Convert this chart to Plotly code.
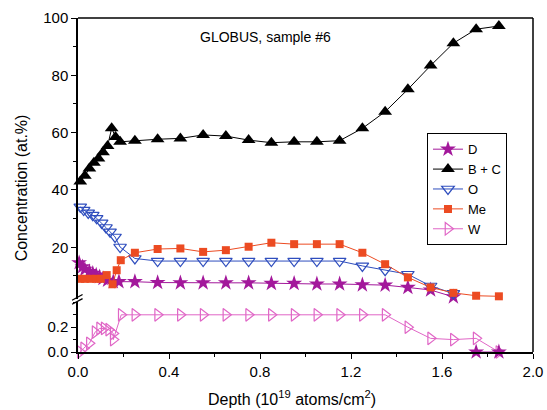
import plotly.graph_objects as go

# ---------------- data ----------------
depth_grid = [0.25, 0.35, 0.45, 0.55, 0.65, 0.75, 0.85, 0.95, 1.05, 1.15,
              1.25, 1.35, 1.45, 1.55, 1.65, 1.75, 1.85]

# B + C
bc_depth = [0.01, 0.03, 0.05, 0.07, 0.09, 0.11, 0.13, 0.148, 0.165, 0.185] + depth_grid
bc_conc = [43.0, 45.0, 47.5, 49.5, 51.0, 53.2, 55.3, 61.5, 58.5, 56.8,
           57.2, 57.7, 58.0, 59.2, 58.8, 57.4, 56.5, 56.8, 56.8, 57.2,
           61.5, 67.3, 75.1, 83.4, 91.2, 96.1, 97.2]

# D (upper part of the broken axis)
d_depth_hi = [0.005, 0.02, 0.03, 0.05, 0.065, 0.08, 0.095, 0.11, 0.13, 0.155, 0.18] + depth_grid[:15]
d_conc_hi = [14.6, 13.2, 12.3, 11.5, 10.9, 10.3, 9.7, 9.1, 8.5, 8.0, 8.0,
             8.0, 7.7, 7.6, 7.6, 7.6, 7.6, 7.4, 7.4, 7.2, 7.2, 6.9, 6.8, 6.0, 5.1, 2.7]
# D (lower part of the broken axis)
d_depth_lo = [1.75, 1.85]
d_conc_lo = [0.0, 0.0]

# O
o_depth = [0.01, 0.025, 0.045, 0.065, 0.082, 0.104, 0.123, 0.141, 0.163, 0.185] + depth_grid[:15]
o_conc = [34.1, 33.0, 32.0, 31.2, 30.1, 28.5, 26.9, 25.4, 23.6, 20.1,
          16.1, 15.2, 15.2, 15.2, 15.2, 15.2, 15.2, 15.2, 15.2, 15.2,
          13.5, 12.0, 10.6, 6.5, 3.9]

# Me
me_depth = [0.01, 0.03, 0.055, 0.08, 0.10, 0.126, 0.152, 0.17, 0.188] + depth_grid
me_conc = [9.0, 9.0, 9.0, 9.0, 9.0, 10.3, 7.1, 12.0, 15.5,
           18.1, 19.4, 19.6, 18.4, 19.0, 20.2, 21.6, 21.1, 21.1, 21.1,
           18.1, 14.1, 9.5, 6.0, 4.1, 3.1, 2.9]

# W (lower part of the broken axis)
w_depth = [0.01, 0.025, 0.05, 0.075, 0.095, 0.115, 0.135, 0.155, 0.155, 0.19] + depth_grid
w_conc = [0.0, 0.03, 0.07, 0.16, 0.19, 0.19, 0.18, 0.15, 0.10, 0.30,
          0.30, 0.30, 0.30, 0.30, 0.30, 0.30, 0.30, 0.30, 0.30, 0.30,
          0.30, 0.30, 0.20, 0.11, 0.10, 0.11, 0.0]

x_ticks = [0.0, 0.4, 0.8, 1.2, 1.6, 2.0]
y_hi_ticks = [20, 40, 60, 80, 100]
y_lo_ticks = [0.0, 0.2]

# ---------------- styles ----------------
C_D = "#A3189B"
C_BC = "#000000"
C_O = "#2F4EBE"
C_ME = "#EC4B22"
C_W = "#E066C6"
FONT = "Liberation Sans, Arial, sans-serif"

fig = go.Figure()

fig.add_trace(go.Scatter(x=d_depth_hi, y=d_conc_hi, name="D", legendgroup="D",
                         mode="lines+markers", xaxis="x", yaxis="y",
                         line=dict(color=C_D, width=1),
                         marker=dict(symbol="star", size=12, color=C_D),
                         cliponaxis=False))
fig.add_trace(go.Scatter(x=bc_depth, y=bc_conc, name="B + C",
                         mode="lines+markers", xaxis="x", yaxis="y",
                         line=dict(color=C_BC, width=1),
                         marker=dict(symbol="triangle-up", size=12, color=C_BC),
                         cliponaxis=False))
fig.add_trace(go.Scatter(x=o_depth, y=o_conc, name="O",
                         mode="lines+markers", xaxis="x", yaxis="y",
                         line=dict(color=C_O, width=1),
                         marker=dict(symbol="triangle-down-open", size=11, color=C_O,
                                     line=dict(width=1.2)),
                         cliponaxis=False))
fig.add_trace(go.Scatter(x=me_depth, y=me_conc, name="Me",
                         mode="lines+markers", xaxis="x", yaxis="y",
                         line=dict(color=C_ME, width=1),
                         marker=dict(symbol="square", size=8, color=C_ME),
                         cliponaxis=False))
fig.add_trace(go.Scatter(x=w_depth, y=w_conc, name="W",
                         mode="lines+markers", xaxis="x", yaxis="y2",
                         line=dict(color=C_W, width=1),
                         marker=dict(symbol="triangle-right-open", size=11, color=C_W,
                                     line=dict(width=1.2)),
                         cliponaxis=False))
fig.add_trace(go.Scatter(x=d_depth_lo, y=d_conc_lo, name="D", legendgroup="D",
                         showlegend=False,
                         mode="lines+markers", xaxis="x", yaxis="y2",
                         line=dict(color=C_D, width=1),
                         marker=dict(symbol="star", size=12, color=C_D),
                         cliponaxis=False))

axis_common = dict(showline=True, linecolor="black", linewidth=1.5,
                   ticks="outside", ticklen=5, tickwidth=1.2, tickcolor="black",
                   showgrid=False, zeroline=False, automargin=False,
                   tickfont=dict(family=FONT, size=15, color="black"))

fig.update_layout(
    width=547, height=410, autosize=False,
    margin=dict(l=78, r=14, t=18, b=58, pad=0, autoexpand=False),
    paper_bgcolor="white", plot_bgcolor="white",
    font=dict(family=FONT, size=14, color="black"),
    xaxis=dict(range=[0, 2.0], tickvals=x_ticks, ticktext=[f"{v:.1f}" for v in x_ticks],
               anchor="y2",
               minor=dict(dtick=0.2, tick0=0, ticklen=3, tickwidth=1.2,
                          ticks="outside", tickcolor="black"),
               **axis_common),
    yaxis=dict(domain=[0.159, 1.0], range=[2, 100], tickvals=y_hi_ticks,
               ticktext=[str(v) for v in y_hi_ticks], anchor="x",
               minor=dict(dtick=10, tick0=0, ticklen=3, tickwidth=1.2,
                          ticks="outside", tickcolor="black"),
               **axis_common),
    yaxis2=dict(domain=[0.0, 0.1485], range=[0, 0.4], tickvals=y_lo_ticks,
                ticktext=[f"{v:.1f}" for v in y_lo_ticks], anchor="x",
                minor=dict(dtick=0.1, tick0=0, ticklen=3, tickwidth=1.2,
                           ticks="outside", tickcolor="black"),
                **axis_common),
    legend=dict(x=0.767, y=0.655, xanchor="left", yanchor="top",
                bgcolor="white", bordercolor="black", borderwidth=1,
                font=dict(family=FONT, size=13, color="black"),
                tracegroupgap=0, itemwidth=30),
    showlegend=True,
)

# frame (top and right edges) and axis-break marks
fig.add_shape(type="line", xref="paper", yref="paper", x0=0, x1=1, y0=1, y1=1,
              line=dict(color="black", width=1.5))
fig.add_shape(type="line", xref="paper", yref="paper", x0=1, x1=1, y0=0, y1=1,
              line=dict(color="black", width=1.5))
for dy in (0.0, 0.012):
    fig.add_shape(type="line", xref="paper", yref="paper",
                  x0=-0.013, x1=0.010, y0=0.143 + dy, y1=0.160 + dy,
                  line=dict(color="black", width=1.3))

fig.add_annotation(text="GLOBUS, sample #6", xref="paper", yref="paper",
                   x=(265 - 78) / 455, y=(352 - 37) / 334, showarrow=False,
                   xanchor="center", yanchor="middle",
                   font=dict(family=FONT, size=14, color="black"))
fig.add_annotation(text="Concentration (at.%)", xref="paper", yref="paper",
                   x=(21 - 78) / 455, y=0.49, textangle=-90, showarrow=False,
                   xanchor="center", yanchor="middle",
                   font=dict(family=FONT, size=16, color="black"))
fig.add_annotation(text="Depth (10<sup>19</sup> atoms/cm<sup>2</sup>)", xref="paper",
                   yref="paper", x=(292 - 78) / 455, y=(352 - 398) / 334,
                   xanchor="center", yanchor="middle",
                   showarrow=False, font=dict(family=FONT, size=16, color="black"))

fig.write_html("out.html", config={"displayModeBar": False},
               post_script="document.body.style.margin='0';document.body.style.padding='0';")
